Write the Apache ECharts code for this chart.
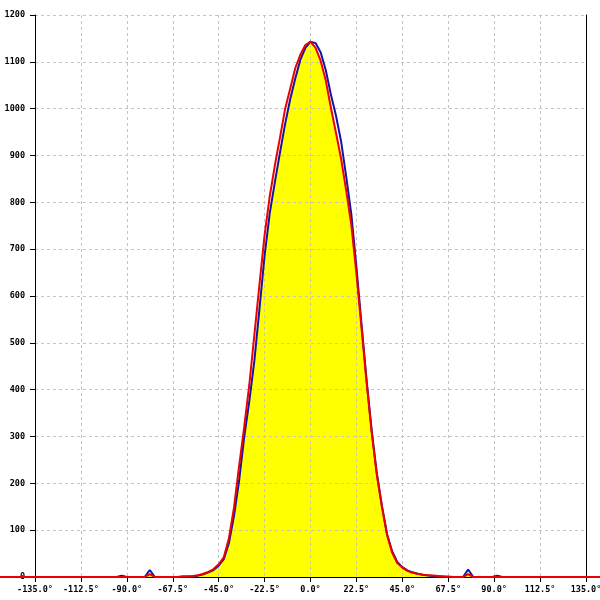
<!DOCTYPE html>
<html>
<head>
<meta charset="utf-8">
<script src="https://cdn.jsdelivr.net/npm/echarts@6/dist/echarts.min.js"></script>
<style>html,body{margin:0;padding:0;background:#fff}#c{width:600px;height:600px}</style>
</head>
<body>
<div id="c"></div>
<script>
// Angles (degrees) sampled
const angles = [-180, -95, -92.5, -90, -81.25, -78.75, -76.25, -70, -65, -62.5,
  -60, -57.5, -55, -52.5, -50, -47.5, -45, -42.5, -40, -37.5,
  -35, -32.5, -30, -27.5, -25, -22.5, -20, -17.5, -15, -12.5,
  -10, -7.5, -5, -2.5, 0, 2.5, 5, 7.5, 10, 12.5,
  15, 17.5, 20, 22.5, 25, 27.5, 30, 32.5, 35, 37.5,
  40, 42.5, 45, 47.5, 50, 52.5, 55, 57.5, 60, 62.5,
  65, 70, 74.75, 77.25, 79.75, 89, 91.5, 94, 180];
// Red series
const redValues = [0, 0, 0, 0, 0, 6, 0, 0, 0, 1,
  1, 2, 4, 7, 11, 17, 27, 42, 82, 148,
  236, 320, 410, 517, 625, 730, 812, 878, 937, 998,
  1042, 1086, 1115, 1136, 1143, 1130, 1102, 1060, 1002, 948,
  893, 825, 752, 648, 532, 415, 308, 218, 150, 90,
  52, 30, 20, 13, 9, 7, 5, 4, 3, 2,
  1, 0, 0, 6, 0, 0, 0, 0, 0];
// Blue series
const blueValues = [0, 0, 3, 0, 0, 15, 0, 0, 0, 1,
  1, 1, 3, 6, 10, 15, 24, 38, 72, 130,
  205, 298, 375, 462, 573, 686, 776, 842, 905, 966,
  1019, 1064, 1104, 1130, 1143, 1140, 1120, 1082, 1030, 985,
  930, 855, 775, 662, 540, 420, 312, 222, 152, 92,
  55, 32, 21, 14, 10, 7, 5, 3, 2, 1,
  1, 0, 0, 16, 0, 0, 3, 0, 0];
const xTicks = [-135, -112.5, -90, -67.5, -45, -22.5, 0, 22.5, 45, 67.5, 90, 112.5, 135];
const yTicks = [0, 100, 200, 300, 400, 500, 600, 700, 800, 900, 1000, 1100, 1200];

const W = 600, GL = 35, GR = 14;
const xMin = xTicks[0], xMax = xTicks[xTicks.length - 1];
const perPx = (xMax - xMin) / (W - GL - GR);
// full-width hidden axis with the same scale, so the red trace may run to the canvas edges
const fullMin = xMin - GL * perPx, fullMax = xMax + GR * perPx;

const redData = angles.map((a, i) => [a, redValues[i]]);
const blueData = angles.map((a, i) => [a, blueValues[i]]);
const fillData = angles.map((a, i) => [a, Math.min(redValues[i], blueValues[i])]);

const font = {fontFamily: 'DejaVu Sans Mono', fontSize: 8.5, fontWeight: 'bold', color: '#000'};
const chart = echarts.init(document.getElementById('c'), null, {renderer: 'canvas'});
chart.setOption({
  animation: false,
  backgroundColor: '#fff',
  grid: [
    {left: GL, right: GR, top: 15, bottom: 23, containLabel: false, outerBoundsMode: 'none'},
    {left: 0, right: 0, top: 15, bottom: 23, containLabel: false, outerBoundsMode: 'none'}
  ],
  xAxis: [{
    type: 'value', gridIndex: 0, min: xMin, max: xMax, interval: 22.5, z: 3,
    axisLine: {show: true, onZero: false, lineStyle: {color: '#000', width: 1}},
    axisTick: {show: true, length: 5, lineStyle: {color: '#000'}},
    axisLabel: Object.assign({margin: 8, formatter: v => v.toFixed(1) + '°', hideOverlap: false}, font),
    splitLine: {show: true, lineStyle: {color: '#c4c4c4', type: [3, 3], width: 1}}
  }, {
    type: 'value', gridIndex: 1, min: fullMin, max: fullMax, show: false
  }],
  yAxis: [{
    type: 'value', gridIndex: 0, min: yTicks[0], max: yTicks[yTicks.length - 1], interval: 100, z: 3,
    axisLine: {show: true, onZero: false, lineStyle: {color: '#000', width: 1}},
    axisTick: {show: true, length: 5, lineStyle: {color: '#000'}},
    axisLabel: Object.assign({margin: 10, formatter: v => String(v)}, font),
    splitLine: {show: true, lineStyle: {color: '#c4c4c4', type: [3, 3], width: 1}}
  }, {
    type: 'value', gridIndex: 0, min: 0, max: 1200, position: 'right', z: 3,
    axisLine: {show: true, onZero: false, lineStyle: {color: '#000', width: 1}},
    axisTick: {show: false}, axisLabel: {show: false}, splitLine: {show: false}
  }, {
    type: 'value', gridIndex: 1, min: 0, max: 1200, show: false
  }],
  series: [{
    type: 'line', xAxisIndex: 0, yAxisIndex: 0, data: fillData, showSymbol: false, z: 2,
    lineStyle: {width: 0}, areaStyle: {color: '#ffff00', opacity: 1}
  }, {
    type: 'line', xAxisIndex: 0, yAxisIndex: 0, data: blueData, showSymbol: false, z: 5, clip: false,
    lineStyle: {color: '#1414a0', width: 2}
  }, {
    type: 'line', xAxisIndex: 1, yAxisIndex: 2, data: redData, showSymbol: false, z: 6, clip: false,
    lineStyle: {color: '#ee0000', width: 2}
  }]
});
</script>
</body>
</html>
